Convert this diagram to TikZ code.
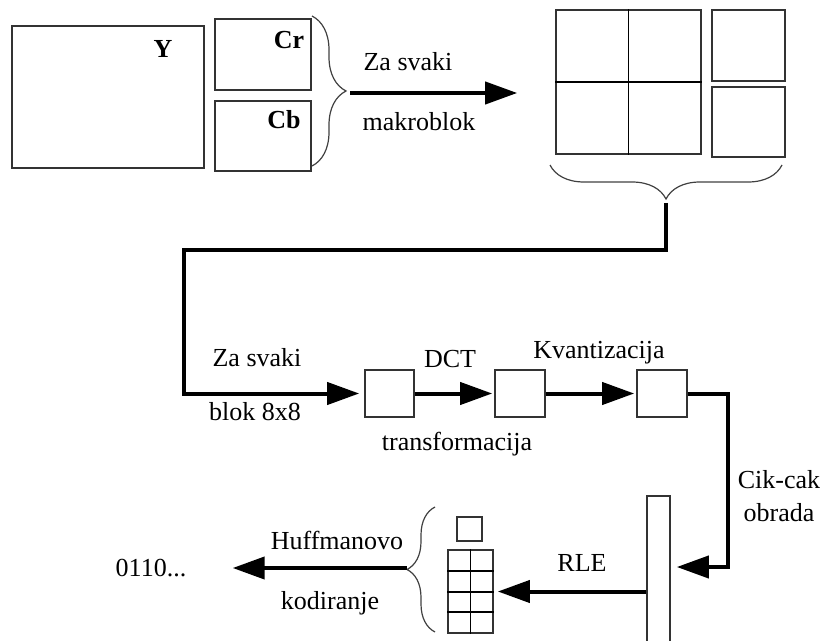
\documentclass[tikz,border=0pt]{standalone}
\usepackage{fontspec}
\setmainfont{Liberation Serif}
\usetikzlibrary{arrows.meta,decorations.pathreplacing,positioning}

\tikzset{
  box/.style={draw=black!80, line width=0.8pt, inner sep=0pt},
  flow/.style={line width=2pt, -{Triangle[length=16pt,width=11pt]}},
  brc/.style={decorate, decoration={brace, amplitude=#1}, line width=0.6pt, draw=black!75},
  lbl/.style={font=\fontsize{13}{15}\selectfont, inner sep=0pt},
  plane/.style={font=\bfseries\fontsize{13}{15}\selectfont, inner sep=0pt},
}

\begin{document}
\begin{tikzpicture}[x=0.5pt, y=-0.5pt]
        \useasboundingbox (0,0) rectangle (823,641);

        % Y, Cr and Cb planes
        \node[box, minimum width=96pt, minimum height=71pt] (Y) at (108,97) {};
        \node[box, minimum width=48pt, minimum height=35.5pt] (Cr) at (263,54.5) {};
        \node[box, minimum width=48pt, minimum height=35pt] (Cb) at (263,136) {};
        \node[plane] (tY) at (163,49) {Y};
        \node[plane] (tCr) at (289,40) {Cr};
        \node[plane] (tCb) at (284,120) {Cb};
        \draw[brc=17pt] (312,16) -- (312,166);
        \coordinate (K1) at (350,93);

        % macroblock: four Y blocks, Cr and Cb
        \node[box, minimum width=72.5pt, minimum height=72pt] (MB) at (628.5,82) {};
        \draw[line width=0.8pt] (MB.north) -- (MB.south) (MB.west) -- (MB.east);
        \node[box, minimum width=36.5pt, minimum height=35.5pt] (MR) at (748.5,45.5) {};
        \node[box, minimum width=36.5pt, minimum height=35pt] (MC) at (748.5,122) {};
        \draw[brc=17pt] (782,165) -- (550,165);
        \coordinate (K2) at (666,203);
        \coordinate (K3) at (184,250);

        \draw[flow, shorten >=19pt] (K1) -- (K1 -| MB.west);
        \node[lbl] (t1) at (408,62) {Za svaki};
        \node[lbl] (t2) at (419,122) {makroblok};

        % 8x8 block: DCT, quantization
        \node[box, minimum width=24.5pt, minimum height=23.5pt] (B1) at (389.5,393.5) {};
        \node[box, minimum width=25pt, minimum height=23.5pt] (B2) at (520,393.5) {};
        \node[box, minimum width=25pt, minimum height=23.5pt] (B3) at (662,393.5) {};

        \draw[flow, shorten >=2.5pt] (K2) |- (K3) |- (B1.west);
        \draw[flow, shorten >=1pt] (B1) -- (B2);
        \draw[flow, shorten >=1pt] (B2) -- (B3);

        \node[lbl] (t3) at (257,358) {Za svaki};
        \node[lbl] (t4) at (255,412) {blok 8x8};
        \node[lbl] (t5) at (450,359) {DCT};
        \node[lbl] (t6) at (457,444) {transformacija};
        \node[lbl] (t7) at (599,353) {Kvantizacija};

        % zig-zag vector
        \node[box, minimum width=11.5pt, minimum height=77pt] (ZZ) at (658.5,573) {};
        \coordinate (K4) at (728,567);
        \draw[flow, shorten >=3pt] (B3.east) -| (K4) -- (K4 -| ZZ.east);
        \node[lbl] (t8) at (779,480) {Cik-cak};
        \node[lbl] (t9) at (779,513) {obrada};

        % RLE pairs
        \node[box, minimum width=12.5pt, minimum height=12pt] (DC) at (469.5,529) {};
        \node[box, minimum width=22.5pt, minimum height=41.5pt] (RL) at (470.5,591.5) {};
        \draw[line width=0.8pt] (RL.north) -- (RL.south);
        \foreach \r in {571,592,612}
            \draw[line width=0.8pt] (RL.west |- 0,\r) -- (RL.east |- 0,\r);
        \draw[flow, shorten >=2pt] (RL.east -| ZZ.west) -- (RL.east);
        \node[lbl] (t10) at (582,563) {RLE};

        % Huffman
        \draw[brc=14pt] (435,632) -- (435,507);
        \coordinate (K5) at (407,568);
        \node[lbl] (out) at (151,568) {0110...};
        \draw[flow, shorten >=23pt] (K5) -- (out.east);
        \node[lbl] (t11) at (337,540) {Huffmanovo};
        \node[lbl] (t12) at (330,603) {kodiranje};

    \end{tikzpicture}
\end{document}
